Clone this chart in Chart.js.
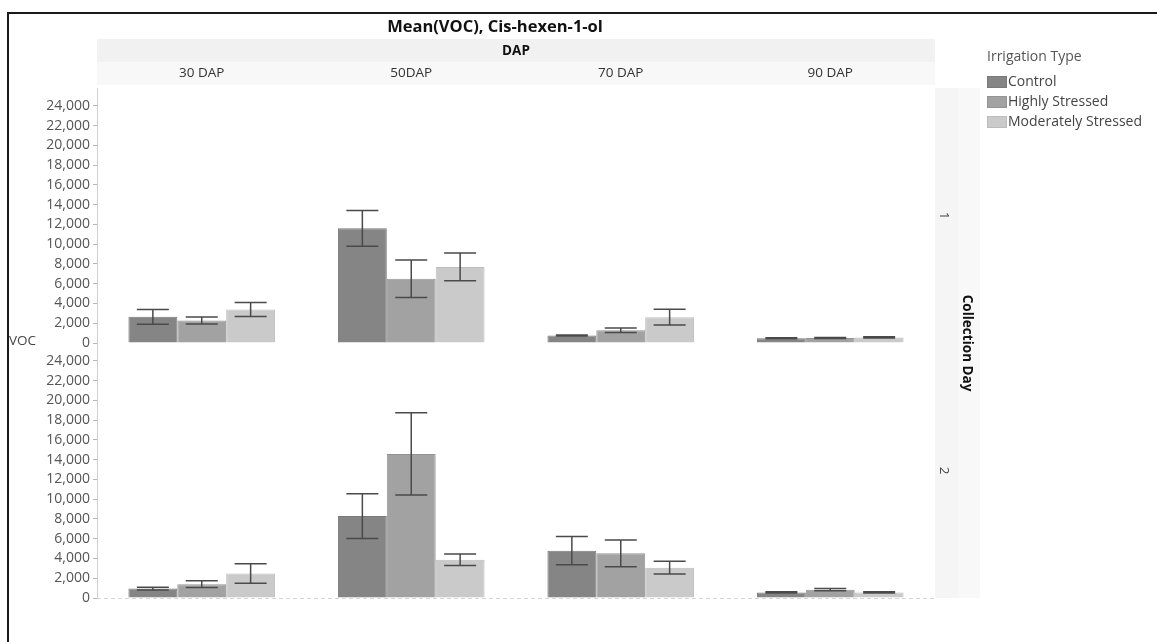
<!DOCTYPE html>
<html><head><meta charset="utf-8">
<script src="https://cdn.jsdelivr.net/npm/chart.js@4.4.1/dist/chart.umd.min.js"></script>
<style>
html,body{margin:0;padding:0;background:#fff;overflow:hidden;width:1157px;height:642px}
#frame{position:absolute;left:7px;top:12px;width:1200px;height:700px;border:2px solid #1a1a1a;box-sizing:border-box}
#c{position:absolute;left:0;top:0}
</style></head><body>
<div id="frame"></div>
<canvas id="c" width="1157" height="642"></canvas>
<script>
// ---- data ----
const dapLabels = ['30 DAP', '50DAP', '70 DAP', '90 DAP'];
const seriesNames = ['Control', 'Highly Stressed', 'Moderately Stressed'];
const rowLabels = ['1', '2'];
const yTickValues = [0, 2000, 4000, 6000, 8000, 10000, 12000, 14000, 16000, 18000, 20000, 22000, 24000];

// Collection Day 1 (top row): means and error half-widths
const day1Control = [2650, 11600, 760, 480];
const day1ControlErr = [750, 1800, 60, 50];
const day1Highly = [2270, 6500, 1290, 500];
const day1HighlyErr = [350, 1900, 220, 50];
const day1Moderate = [3390, 7700, 2610, 560];
const day1ModerateErr = [710, 1400, 800, 60];

// Collection Day 2 (bottom row)
const day2Control = [950, 8290, 4790, 560];
const day2ControlErr = [150, 2270, 1430, 60];
const day2Highly = [1400, 14580, 4520, 840];
const day2HighlyErr = [340, 4170, 1350, 110];
const day2Moderate = [2480, 3880, 3070, 560];
const day2ModerateErr = [975, 580, 650, 60];

// ---- styles ----
const FONT = "'Open Sans','Noto Sans',sans-serif";
const fills = ['#858585', '#a2a2a2', '#cacaca'];
const edges = ['#797979', '#949494', '#bcbcbc'];

Chart.defaults.font.family = FONT;

function makeSet(label, data, errors, k, axis) {
  return {
    label: label, data: data, errors: errors, yAxisID: axis, stack: 's' + k,
    backgroundColor: fills[k], borderColor: edges[k], borderWidth: 1,
    categoryPercentage: 0.70, barPercentage: 1.0
  };
}

function yAxis() {
  return {
    type: 'linear', position: 'left', stack: 'rows', stackWeight: 1,
    min: 0, max: 25800, stacked: false,
    grid: { drawOnChartArea: false, drawTicks: true, tickLength: 4, color: '#b8b8b8' },
    border: { display: true, color: '#d0d0d0' },
    ticks: { autoSkip: false, padding: 3, color: '#555', font: { size: 14 } },
    afterBuildTicks(s) { s.ticks = yTickValues.map(v => ({ value: v })); },
    afterFit(s) { s.width = 97; }
  };
}

const errorBars = {
  id: 'errorBars',
  afterDatasetsDraw(chart) {
    const ctx = chart.ctx;
    chart.data.datasets.forEach((ds, i) => {
      const meta = chart.getDatasetMeta(i);
      const ys = chart.scales[meta.yAxisID];
      meta.data.forEach((bar, j) => {
        const v = ds.data[j], e = ds.errors[j];
        const yh = ys.getPixelForValue(v + e), yl = ys.getPixelForValue(v - e);
        const hw = 16;
        ctx.save();
        ctx.strokeStyle = '#4a4a4a'; ctx.lineWidth = 1.5;
        ctx.beginPath();
        ctx.moveTo(bar.x, yh); ctx.lineTo(bar.x, yl);
        ctx.moveTo(bar.x - hw, yh); ctx.lineTo(bar.x + hw, yh);
        ctx.moveTo(bar.x - hw, yl); ctx.lineTo(bar.x + hw, yl);
        ctx.stroke();
        ctx.restore();
      });
    });
  }
};

const decor = {
  id: 'decor',
  beforeDraw(chart) {
    const ctx = chart.ctx, a = chart.chartArea;
    ctx.save();
    // header band (DAP)
    ctx.fillStyle = '#f1f1f1'; ctx.fillRect(a.left, 39, a.right - a.left, 23);
    ctx.fillStyle = '#f8f8f8'; ctx.fillRect(a.left, 62, a.right - a.left, 23);
    // right strip (Collection Day)
    ctx.fillStyle = '#f5f5f5'; ctx.fillRect(a.right, a.top, 23, a.bottom - a.top);
    ctx.fillStyle = '#f8f8f8'; ctx.fillRect(a.right + 23, a.top, 22, a.bottom - a.top);
    // baseline of bottom panel
    ctx.strokeStyle = '#d6d6d6'; ctx.lineWidth = 1; ctx.setLineDash([4, 3]);
    ctx.beginPath(); ctx.moveTo(a.left, a.bottom + 0.5); ctx.lineTo(a.right, a.bottom + 0.5); ctx.stroke();
    ctx.restore();
  },
  afterDraw(chart) {
    const ctx = chart.ctx, a = chart.chartArea;
    const top = chart.scales.yTop, bot = chart.scales.yBot;
    ctx.save();
    ctx.textBaseline = 'middle';
    // title
    ctx.fillStyle = '#111'; ctx.textAlign = 'center';
    ctx.font = 'bold 16.5px ' + FONT;
    ctx.fillText('Mean(VOC), Cis-hexen-1-ol', 495, 27);
    ctx.font = 'bold 13.5px ' + FONT;
    ctx.fillText('DAP', (a.left + a.right) / 2, 51);
    // y title
    ctx.textAlign = 'left'; ctx.fillStyle = '#444';
    ctx.font = '13.5px ' + FONT;
    ctx.fillText('VOC', 9, 341);
    // strip labels
    const rows = [top, bot];
    rows.forEach((s, k) => {
      ctx.save();
      ctx.translate(a.right + 9, (s.top + s.bottom) / 2);
      ctx.rotate(Math.PI / 2);
      ctx.textAlign = 'center'; ctx.fillStyle = '#444'; ctx.font = '13.5px ' + FONT;
      ctx.fillText(rowLabels[k], 0, 0);
      ctx.restore();
    });
    ctx.save();
    ctx.translate(a.right + 32, (a.top + a.bottom) / 2);
    ctx.rotate(Math.PI / 2);
    ctx.textAlign = 'center'; ctx.fillStyle = '#111'; ctx.font = 'bold 13.5px ' + FONT;
    ctx.fillText('Collection Day', 0, 0);
    ctx.restore();
    // legend
    ctx.textAlign = 'left'; ctx.fillStyle = '#555'; ctx.font = '14px ' + FONT;
    ctx.fillText('Irrigation Type', 987, 57);
    seriesNames.forEach((n, k) => {
      const y = 82 + k * 20;
      ctx.fillStyle = fills[k]; ctx.fillRect(987, y - 6, 20, 12);
      ctx.strokeStyle = edges[k]; ctx.lineWidth = 1; ctx.strokeRect(987.5, y - 5.5, 19, 11);
      ctx.fillStyle = '#444'; ctx.fillText(n, 1008, y);
    });
    ctx.restore();
  }
};

new Chart(document.getElementById('c'), {
  type: 'bar',
  data: {
    labels: dapLabels,
    datasets: [
      makeSet(seriesNames[0], day2Control, day2ControlErr, 0, 'yBot'),
      makeSet(seriesNames[1], day2Highly, day2HighlyErr, 1, 'yBot'),
      makeSet(seriesNames[2], day2Moderate, day2ModerateErr, 2, 'yBot'),
      makeSet(seriesNames[0], day1Control, day1ControlErr, 0, 'yTop'),
      makeSet(seriesNames[1], day1Highly, day1HighlyErr, 1, 'yTop'),
      makeSet(seriesNames[2], day1Moderate, day1ModerateErr, 2, 'yTop')
    ]
  },
  options: {
    responsive: false, animation: false, devicePixelRatio: 1,
    layout: { padding: { left: 0, right: 222, top: 60, bottom: 44 } },
    plugins: { legend: { display: false }, title: { display: false }, tooltip: { enabled: false } },
    scales: {
      x: {
        position: 'top', grid: { display: false, drawTicks: false }, border: { display: false },
        ticks: { padding: 7, color: '#333', font: { size: 13.5 } },
        afterFit(s) { s.height = 28; }
      },
      yBot: yAxis(),
      yTop: yAxis()
    }
  },
  plugins: [decor, errorBars]
});
</script>
</body></html>
